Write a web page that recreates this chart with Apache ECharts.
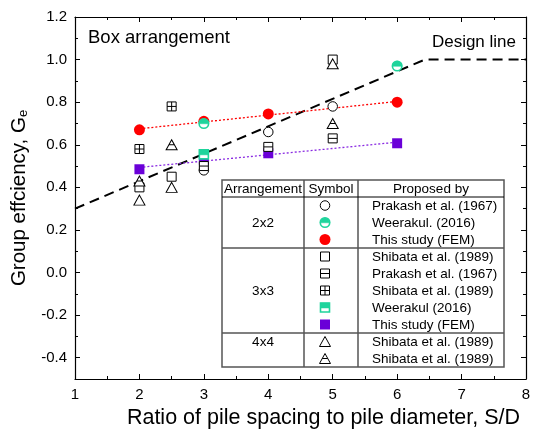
<!DOCTYPE html>
<html>
<head>
<meta charset="utf-8">
<script src="https://cdn.jsdelivr.net/npm/echarts@6.0.0/dist/echarts.min.js"></script>
<style>
  html, body { margin: 0; padding: 0; background: #fff; }
  #chart { width: 534px; height: 434px; }
</style>
</head>
<body>
<div id="chart"></div>
<script>
// ---- axis ranges and tick values ----
const xMin = 1, xMax = 8, xStep = 1;
const yMin = -0.5, yMax = 1.2;
const yMajorTicks = [-0.4, -0.2, 0.0, 0.2, 0.4, 0.6, 0.8, 1.0, 1.2];
const yMinorTicks = [-0.5, -0.3, -0.1, 0.1, 0.3, 0.5, 0.7, 0.9, 1.1];

// ---- design line (S/D, Ge) ----
const designX = [1, 6.43, 8];
const designY = [0.3, 1.0, 1.0];

// ---- 2x2 groups ----
const prakash22X = [3, 4, 5];
const prakash22Y = [0.48, 0.66, 0.78];
const weerakul22X = [3, 6];
const weerakul22Y = [0.70, 0.97];
const fem22X = [2, 3, 4, 6];
const fem22Y = [0.67, 0.71, 0.745, 0.80];

// ---- 3x3 groups ----
const shibataSq33X = [2, 2.5, 5];
const shibataSq33Y = [0.40, 0.45, 1.00];
const prakash33X = [3, 4, 5];
const prakash33Y = [0.50, 0.59, 0.63];
const shibataCross33X = [2, 2.5];
const shibataCross33Y = [0.58, 0.78];
const weerakul33X = [3];
const weerakul33Y = [0.555];
const fem33X = [2, 3, 4, 6];
const fem33Y = [0.485, 0.53, 0.56, 0.607];

// ---- 4x4 groups ----
const shibataTri44X = [2, 2.5, 5];
const shibataTri44Y = [0.34, 0.40, 0.98];
const shibataTriLine44X = [2, 2.5, 5];
const shibataTriLine44Y = [0.43, 0.60, 0.70];

// ---- table text ----
const tableHeader = ['Arrangement', 'Symbol', 'Proposed by'];
const arrangements = ['2x2', '3x3', '4x4'];

const FONT = '"Liberation Sans", Arial, Helvetica, sans-serif';
const GREEN = '#1fd49c';
const RED = '#ff0000';
const PURPLE = '#6a00d8';

// marker layers: shape kind + optional inner stroke ('h' = horizontal bar, 'x' = cross)
const marks = {
  circleOpen:   [{ kind: 'circle', w: 9.5, h: 9.5, fill: '#fff', stroke: '#000', lw: 1 }],
  circleHalf:   [{ kind: 'circle', w: 9.5, h: 9.5, fill: '#fff', stroke: GREEN, lw: 1.6 },
                 { kind: 'halfCircle', w: 9.5, h: 5.2, dy: -2.3, fill: GREEN, stroke: GREEN, lw: 0.5 }],
  circleFill:   [{ kind: 'circle', w: 11, h: 11, fill: RED, stroke: RED, lw: 0 }],
  square:       [{ kind: 'square', w: 9, h: 9, fill: '#fff', stroke: '#000', lw: 1 }],
  squareLine:   [{ kind: 'square', inner: 'h', w: 9, h: 9, fill: '#fff', stroke: '#000', lw: 1 }],
  squareCross:  [{ kind: 'square', inner: 'x', w: 9, h: 9, fill: '#fff', stroke: '#000', lw: 1 }],
  squareHalf:   [{ kind: 'square', w: 9, h: 9, fill: '#fff', stroke: GREEN, lw: 1.6 },
                 { kind: 'square', w: 9, h: 5, dy: -2, fill: GREEN, stroke: GREEN, lw: 0.5 }],
  squareFill:   [{ kind: 'square', w: 10, h: 10, fill: PURPLE, stroke: PURPLE, lw: 0 }],
  triangle:     [{ kind: 'triangle', w: 11, h: 10, fill: '#fff', stroke: '#000', lw: 1 }],
  triangleLine: [{ kind: 'triangle', inner: 'h', w: 11, h: 10, fill: '#fff', stroke: '#000', lw: 1 }]
};

// SVG path (unit box 10x10) for the scatter symbols
function layerPath(l) {
  let d;
  if (l.kind === 'circle') d = 'M0,5A5,5 0 1 1 10,5A5,5 0 1 1 0,5Z';
  else if (l.kind === 'halfCircle') d = 'M0,5A5,5 0 0 1 10,5Z';
  else if (l.kind === 'square') d = 'M0,0H10V10H0Z';
  else d = 'M5,0L10,10H0Z';
  if (l.inner === 'h') d += l.kind === 'triangle' ? ' M2.5,5H7.5' : ' M0,5H10';
  if (l.inner === 'x') d += ' M0,5H10 M5,0V10';
  return 'path://' + d;
}

// the same layer as graphic elements, centred at (cx, cy)
function layerGraphic(l, cx, cy) {
  const z = 103;
  const style = { fill: l.fill, stroke: l.lw ? l.stroke : null, lineWidth: l.lw };
  const yc = cy + (l.dy || 0);
  const x0 = cx - l.w / 2, y0 = yc - l.h / 2;
  const out = [];
  if (l.kind === 'circle') out.push({ type: 'circle', z, shape: { cx, cy: yc, r: l.w / 2 }, style });
  else if (l.kind === 'halfCircle') out.push({ type: 'sector', z, shape: { cx, cy: y0 + l.h, r: l.w / 2, r0: 0, startAngle: Math.PI, endAngle: 2 * Math.PI }, style });
  else if (l.kind === 'square') out.push({ type: 'rect', z, shape: { x: x0, y: y0, width: l.w, height: l.h }, style });
  else out.push({ type: 'polygon', z, shape: { points: [[cx, y0], [x0 + l.w, y0 + l.h], [x0, y0 + l.h]] }, style });
  const ls = { stroke: l.stroke, lineWidth: l.lw };
  if (l.inner === 'h') {
    const half = l.kind === 'triangle' ? l.w / 4 : l.w / 2;
    out.push({ type: 'line', z: z + 1, shape: { x1: cx - half, y1: yc, x2: cx + half, y2: yc }, style: ls });
  }
  if (l.inner === 'x') {
    out.push({ type: 'line', z: z + 1, shape: { x1: x0, y1: yc, x2: x0 + l.w, y2: yc }, style: ls });
    out.push({ type: 'line', z: z + 1, shape: { x1: cx, y1: y0, x2: cx, y2: y0 + l.h }, style: ls });
  }
  return out;
}

// every plotted group, in table order
const groups = [
  { arr: '2x2', src: 'Prakash et al. (1967)', mark: 'circleOpen',  xs: prakash22X, ys: prakash22Y, z: 4 },
  { arr: '2x2', src: 'Weerakul. (2016)',       mark: 'circleHalf',  xs: weerakul22X, ys: weerakul22Y, z: 5 },
  { arr: '2x2', src: 'This study (FEM)',       mark: 'circleFill',  xs: fem22X, ys: fem22Y, z: 3 },
  { arr: '3x3', src: 'Shibata et al. (1989)',  mark: 'square',      xs: shibataSq33X, ys: shibataSq33Y, z: 4 },
  { arr: '3x3', src: 'Prakash et al. (1967)',  mark: 'squareLine',  xs: prakash33X, ys: prakash33Y, z: 4 },
  { arr: '3x3', src: 'Shibata et al. (1989)',  mark: 'squareCross', xs: shibataCross33X, ys: shibataCross33Y, z: 4 },
  { arr: '3x3', src: 'Weerakul (2016)',        mark: 'squareHalf',  xs: weerakul33X, ys: weerakul33Y, z: 5 },
  { arr: '3x3', src: 'This study (FEM)',       mark: 'squareFill',  xs: fem33X, ys: fem33Y, z: 3 },
  { arr: '4x4', src: 'Shibata et al. (1989)',  mark: 'triangle',    xs: shibataTri44X, ys: shibataTri44Y, z: 4 },
  { arr: '4x4', src: 'Shibata et al. (1989)',  mark: 'triangleLine', xs: shibataTriLine44X, ys: shibataTriLine44Y, z: 4 }
];

// least-squares trend through a group
function fitLine(xs, ys) {
  const n = xs.length;
  const mx = xs.reduce((a, b) => a + b, 0) / n;
  const my = ys.reduce((a, b) => a + b, 0) / n;
  let sxy = 0, sxx = 0;
  for (let i = 0; i < n; i++) { sxy += (xs[i] - mx) * (ys[i] - my); sxx += (xs[i] - mx) ** 2; }
  const b = sxy / sxx, a = my - b * mx;
  const x0 = Math.min(...xs), x1 = Math.max(...xs);
  return [[x0, a + b * x0], [x1, a + b * x1]];
}

const series = [];
series.push({
  type: 'line', data: designX.map((x, i) => [x, designY[i]]),
  symbol: 'none', silent: true, z: 1,
  lineStyle: { color: '#000', width: 2, type: [10, 6] }
});
series.push({
  type: 'line', data: fitLine(fem22X, fem22Y), symbol: 'none', silent: true, z: 2,
  lineStyle: { color: RED, width: 1.3, type: [2, 2] }
});
series.push({
  type: 'line', data: fitLine(fem33X, fem33Y), symbol: 'none', silent: true, z: 2,
  lineStyle: { color: '#8a2be2', width: 1.3, type: [2, 2] }
});
groups.forEach(g => {
  marks[g.mark].forEach(layer => {
    series.push({
      type: 'scatter', z: g.z, silent: true,
      data: g.xs.map((x, i) => [x, g.ys[i]]),
      symbol: layerPath(layer),
      symbolSize: [layer.w, layer.h],
      symbolOffset: [0, layer.dy || 0],
      itemStyle: { color: layer.fill, borderColor: layer.stroke, borderWidth: layer.lw, opacity: 1 }
    });
  });
});

// ---- table drawn as graphic elements ----
const T = { left: 222, right: 504, top: 180, headH: 17, rowH: 17, c1: 304, c2: 358, symX: 325, srcX: 372 };
const gfx = [];
const nRows = groups.length;
const tBottom = T.top + T.headH + nRows * T.rowH;
const txt = (text, x, y, align, size) => ({
  type: 'text', z: 102,
  style: { text, x, y, align, verticalAlign: 'middle', fontSize: size || 13.5, fontFamily: FONT, fill: '#000' }
});
gfx.push({ type: 'rect', z: 100, shape: { x: T.left, y: T.top, width: T.right - T.left, height: tBottom - T.top },
  style: { fill: '#fff', stroke: '#555', lineWidth: 1.5 } });
gfx.push({ type: 'line', z: 101, shape: { x1: T.c1, y1: T.top, x2: T.c1, y2: tBottom }, style: { stroke: '#555', lineWidth: 1.5 } });
gfx.push({ type: 'line', z: 101, shape: { x1: T.c2, y1: T.top, x2: T.c2, y2: tBottom }, style: { stroke: '#555', lineWidth: 1.5 } });
gfx.push({ type: 'line', z: 101, shape: { x1: T.left, y1: T.top + T.headH, x2: T.right, y2: T.top + T.headH }, style: { stroke: '#000', lineWidth: 1 } });
const hy = T.top + T.headH / 2 + 0.5;
gfx.push(txt(tableHeader[0], (T.left + T.c1) / 2, hy, 'center'));
gfx.push(txt(tableHeader[1], (T.c1 + T.c2) / 2, hy, 'center'));
gfx.push(txt(tableHeader[2], (T.c2 + T.right) / 2, hy, 'center'));

let rowIdx = 0;
arrangements.forEach((arr, ai) => {
  const rows = groups.filter(g => g.arr === arr);
  const y0 = T.top + T.headH + rowIdx * T.rowH;
  const labelRow = Math.floor((rows.length - 1) / 2);
  gfx.push(txt(arr, (T.left + T.c1) / 2, y0 + (labelRow + 0.5) * T.rowH + 0.5, 'center'));
  rows.forEach((g, ri) => {
    const cy = y0 + (ri + 0.5) * T.rowH;
    marks[g.mark].forEach(layer => { gfx.push(...layerGraphic(layer, T.symX, cy)); });
    gfx.push(txt(g.src, T.srcX, cy + 0.5, 'left'));
  });
  rowIdx += rows.length;
  if (ai < arrangements.length - 1) {
    const ly = T.top + T.headH + rowIdx * T.rowH;
    gfx.push({ type: 'line', z: 101, shape: { x1: T.left, y1: ly, x2: T.right, y2: ly }, style: { stroke: '#555', lineWidth: 1.5 } });
  }
});

gfx.push({ type: 'text', z: 10, style: { text: 'Box arrangement', x: 88, y: 38, verticalAlign: 'middle',
  fontSize: 18.5, fontFamily: FONT, fill: '#000' } });
gfx.push({ type: 'text', z: 10, style: { text: 'Design line', x: 516, y: 42, align: 'right', verticalAlign: 'middle',
  fontSize: 17, fontFamily: FONT, fill: '#000' } });

// ---- axes (closed frame: bottom/top and left/right) ----
const axisLine = { show: true, onZero: false, lineStyle: { color: '#000', width: 1.2 } };
const noLine = { show: false, onZero: false };
const baseX = (pos, labels) => ({
  type: 'value', position: pos, min: xMin, max: xMax, interval: xStep,
  axisLine, splitLine: { show: false },
  axisTick: { show: true, inside: true, length: 5, lineStyle: { color: '#000', width: 1 } },
  minorTick: { show: true, splitNumber: 2, length: 3, lineStyle: { color: '#000', width: 1 } },
  axisLabel: { show: labels, fontSize: 15, fontFamily: FONT, color: '#000', margin: 8 }
});
const baseY = (pos, values, len, labels, line) => ({
  type: 'value', position: pos, min: yMin, max: yMax,
  axisLine: line ? axisLine : noLine,
  splitLine: { show: false },
  axisTick: { show: true, inside: true, length: len, customValues: values, lineStyle: { color: '#000', width: 1 } },
  axisLabel: labels
    ? { show: true, customValues: values, formatter: v => (+v).toFixed(1), fontSize: 15, fontFamily: FONT, color: '#000', margin: 8 }
    : { show: false }
});

const xBottom = baseX('bottom', true);
xBottom.name = 'Ratio of pile spacing to pile diameter, S/D';
xBottom.nameLocation = 'middle';
xBottom.nameGap = 25;
xBottom.nameTextStyle = { fontSize: 21.5, fontFamily: FONT, color: '#000', padding: [0, 0, 0, 46] };

const yLeft = baseY('left', yMajorTicks, 5, true, true);
yLeft.name = '{t|Group effciency, G}{s|e}';
yLeft.nameLocation = 'middle';
yLeft.nameGap = 32;
yLeft.nameRotate = 90;
yLeft.nameTextStyle = {
  color: '#000',
  rich: {
    t: { fontSize: 20.5, fontFamily: FONT, color: '#000' },
    s: { fontSize: 13, fontFamily: FONT, color: '#000', padding: [9, 0, 0, 0] }
  }
};

const option = {
  animation: false,
  backgroundColor: '#fff',
  grid: { left: 75, right: 8, top: 17, bottom: 55, containLabel: false },
  xAxis: [xBottom, baseX('top', false)],
  yAxis: [
    yLeft,
    baseY('left', yMinorTicks, 3, false, false),
    baseY('right', yMajorTicks, 5, false, true),
    baseY('right', yMinorTicks, 3, false, false)
  ],
  series,
  graphic: gfx
};

const chart = echarts.init(document.getElementById('chart'), null, { renderer: 'canvas' });
chart.setOption(option);
</script>
</body>
</html>
